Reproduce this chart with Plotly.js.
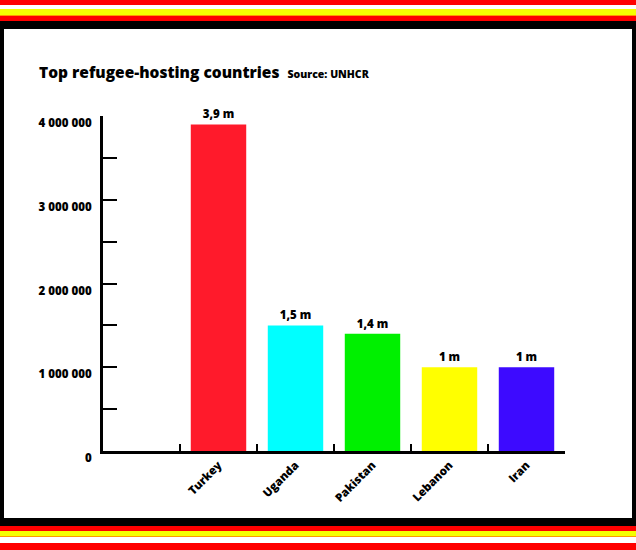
<!DOCTYPE html>
<html>
<head>
<meta charset="utf-8">
<script src="https://cdn.plot.ly/plotly-3.0.1.min.js"></script>
<style>
  html, body { margin: 0; padding: 0; background: #ffffff; }
  #page { position: relative; width: 636px; height: 550px; overflow: hidden; background: #000; }
  #top { position: absolute; left: 0; top: 0; width: 636px; height: 21px;
    background: linear-gradient(to bottom, #ff0000 0px, #ff0000 5px, #ffffff 5px, #ffffff 9px,
      #f5ff00 9px, #f5ff00 15px, #ff9900 15px, #ff9900 16px, #ff0000 16px, #ff0000 21px); }
  #bottom { position: absolute; left: 0; top: 526px; width: 636px; height: 24px;
    background: linear-gradient(to bottom, #ff0000 0px, #ff0000 5px, #f5ff00 5px, #f5ff00 10px,
      #ff9900 10px, #ff9900 11px, #ffffff 11px, #ffffff 17px, #ff0000 17px, #ff0000 24px); }
  #inner { position: absolute; left: 4px; top: 29px; width: 628px; height: 489px; background: #ffffff; }
  #chart { position: absolute; left: 0; top: 0; width: 636px; height: 550px; }
</style>
</head>
<body>
<div id="page">
  <div id="top"></div>
  <div id="bottom"></div>
  <div id="inner"></div>
  <div id="chart"></div>
</div>
<script>
const countries = ["Turkey", "Uganda", "Pakistan", "Lebanon", "Iran"];
const refugees = [3900000, 1500000, 1400000, 1000000, 1000000];
const barColors = ["#ff1a2b", "#00ffff", "#00f000", "#ffff00", "#3d0aff"];
const yTickVals = [0, 1000000, 2000000, 3000000, 4000000];

const barLabels = refugees.map(v => String(+(v / 1e6).toFixed(1)).replace(".", ",") + " m");

const FONT = "'Open Sans', Lato, sans-serif";

const trace = {
  type: "bar",
  x: countries,
  y: refugees,
  marker: { color: barColors, line: { width: 0 } },
  text: barLabels,
  textposition: "outside",
  cliponaxis: false,
  textfont: { family: FONT, size: 11.5, color: "#000", weight: 800 },
  hoverinfo: "x+y"
};

const layout = {
  width: 636,
  height: 550,
  paper_bgcolor: "rgba(0,0,0,0)",
  plot_bgcolor: "rgba(0,0,0,0)",
  margin: { l: 103, r: 71, t: 116, b: 99, pad: 0 },
  separators: ", ",
  bargap: 0.28,
  showlegend: false,
  font: { family: FONT, color: "#000" },
  title: {
    text: "Top refugee-hosting countries  <span style='font-size:10.5px'>Source: UNHCR</span>",
    font: { family: FONT, size: 15.5, color: "#000", weight: 800 },
    x: 39 / 636,
    xanchor: "left",
    xref: "container",
    y: 1 - 73 / 550,
    yanchor: "middle",
    yref: "container"
  },
  xaxis: {
    type: "category",
    range: [-1.5, 4.5],
    showline: true,
    linecolor: "#000",
    linewidth: 3,
    ticks: "inside",
    tickson: "boundaries",
    ticklen: 7,
    tickwidth: 2,
    tickcolor: "#000",
    tickangle: -45,
    tickfont: { family: FONT, size: 11.5, color: "#000", weight: 800 },
    showgrid: false,
    zeroline: false,
    fixedrange: true
  },
  yaxis: {
    range: [0, 4000000],
    tickvals: yTickVals,
    tickformat: ",d",
    showline: true,
    linecolor: "#000",
    linewidth: 3,
    ticks: "inside",
    ticklen: 14,
    tickwidth: 2,
    tickcolor: "#000",
    minor: { dtick: 500000, ticks: "inside", ticklen: 14, tickwidth: 2, tickcolor: "#000", showgrid: false },
    tickfont: { family: FONT, size: 11.5, color: "#000", weight: 800 },
    ticklabelshift: 7,
    ticklabelstandoff: 6,
    showgrid: false,
    zeroline: false,
    fixedrange: true
  }
};

Plotly.newPlot("chart", [trace], layout, { displayModeBar: false, staticPlot: true });
</script>
</body>
</html>
